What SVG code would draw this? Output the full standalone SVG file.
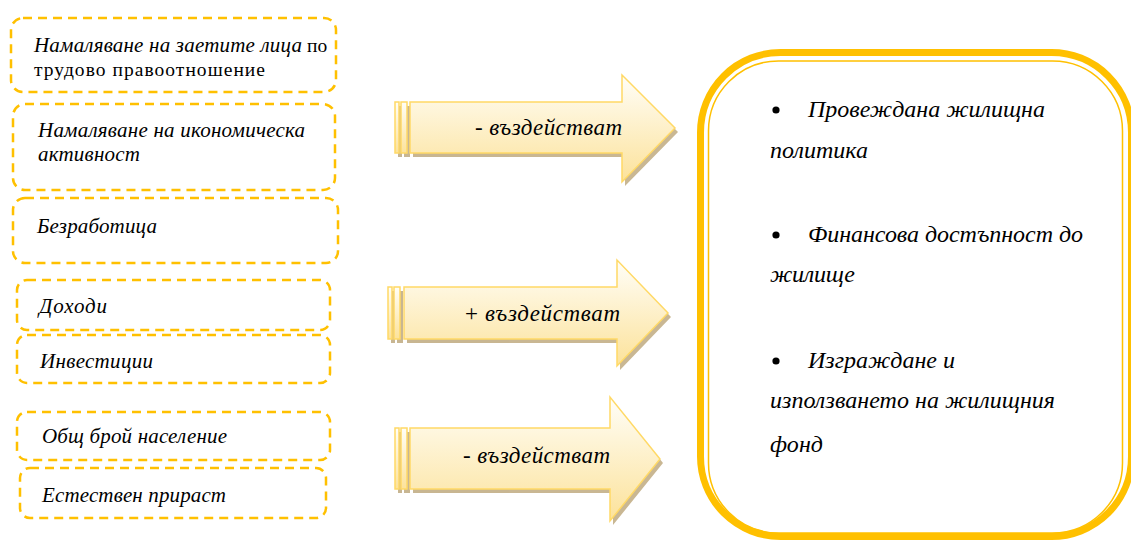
<svg xmlns="http://www.w3.org/2000/svg" width="1131" height="541" viewBox="0 0 1131 541">
<defs>
<linearGradient id="ag" x1="0" y1="0" x2="0" y2="1">
<stop offset="0" stop-color="#FFFEF8"/>
<stop offset="1" stop-color="#FCE29A"/>
</linearGradient>
<style>
.box{fill:#fff;stroke:#FFC000;stroke-width:2.5;stroke-dasharray:9 6}
.t{font-family:"Liberation Serif","Times New Roman",serif;font-size:19.5px;fill:#000}
.i{font-style:italic;font-size:21px}
.ar{fill:url(#ag);stroke:#FFD966;stroke-width:1.5;stroke-linejoin:miter}
.sh{fill:#BFAA80;opacity:0.85}
.big{font-family:"Liberation Serif","Times New Roman",serif;font-size:24px;font-style:italic;fill:#000}
.at{font-family:"Liberation Serif","Times New Roman",serif;font-size:23px;fill:#000}
</style>
</defs>
<rect width="1131" height="541" fill="#fff"/>

<g id="n1"><rect class="box" x="11" y="18" width="325" height="74" rx="12"/>
<text class="t i" x="34" y="52" textLength="268">Намаляване на заетите лица</text>
<text class="t" x="307" y="52">по</text>
<text class="t" x="34" y="76" textLength="231">трудово правоотношение</text></g>
<g id="n2"><rect class="box" x="13" y="104" width="322" height="86" rx="12"/>
<text class="t i" x="38" y="137" textLength="267">Намаляване на икономическа</text>
<text class="t i" x="38" y="161" textLength="102">активност</text></g>
<g id="n3"><rect class="box" x="13" y="198" width="325" height="65" rx="12"/>
<text class="t i" x="37" y="233" textLength="120">Безработица</text></g>
<g id="n4"><rect class="box" x="17" y="280" width="313" height="50" rx="10"/>
<text class="t i" x="39" y="313" textLength="68">Доходи</text></g>
<g id="n5"><rect class="box" x="17" y="335" width="313" height="48" rx="10"/>
<text class="t i" x="40" y="368" textLength="113">Инвестиции</text></g>
<g id="n6"><rect class="box" x="17" y="412" width="313" height="48" rx="10"/>
<text class="t i" x="42" y="443" textLength="185">Общ брой население</text></g>
<g id="n7"><rect class="box" x="20" y="468" width="306" height="50" rx="10"/>
<text class="t i" x="42" y="502" textLength="184">Естествен прираст</text></g>

<g id="connectors">
<g id="a1">
<g transform="translate(3,4)" class="sh"><rect x="395" y="102" width="4" height="51"/><rect x="401" y="102" width="6" height="51"/><polygon points="410,102 622,102 622,75 675,128 622,182 622,153 410,153"/></g>
<rect class="ar" x="395" y="102" width="4" height="51"/><rect class="ar" x="401" y="102" width="6" height="51"/>
<polygon class="ar" points="410,102 622,102 622,75 675,128 622,182 622,153 410,153"/>
<text class="at" x="475" y="135" textLength="147">- <tspan font-style="italic">въздействат</tspan></text>
</g>
<g id="a2">
<g transform="translate(3,4)" class="sh"><rect x="388" y="287" width="4" height="52"/><rect x="394" y="287" width="6" height="52"/><polygon points="404,287 617,287 617,260 668,313 617,366 617,339 404,339"/></g>
<rect class="ar" x="388" y="287" width="4" height="52"/><rect class="ar" x="394" y="287" width="6" height="52"/>
<polygon class="ar" points="404,287 617,287 617,260 668,313 617,366 617,339 404,339"/>
<text class="at" x="465" y="321" textLength="155">+ <tspan font-style="italic">въздействат</tspan></text>
</g>
<g id="a3">
<g transform="translate(3,4)" class="sh"><rect x="395" y="428" width="4" height="61"/><rect x="401" y="428" width="6" height="61"/><polygon points="410,428 610,428 610,397 660,459 610,521 610,489 410,489"/></g>
<rect class="ar" x="395" y="428" width="4" height="61"/><rect class="ar" x="401" y="428" width="6" height="61"/>
<polygon class="ar" points="410,428 610,428 610,397 660,459 610,521 610,489 410,489"/>
<text class="at" x="463" y="463" textLength="147">- <tspan font-style="italic">въздействат</tspan></text>
</g>
</g>

<g id="target">
<rect x="700.5" y="52.5" width="431" height="484" rx="80" fill="#fff" stroke="#FFC000" stroke-width="7"/>
<rect x="708.5" y="61" width="414" height="472" rx="70" fill="none" stroke="#FFC000" stroke-width="1.5"/>
<circle cx="776" cy="110" r="3.6" fill="#000"/>
<text class="big" x="808" y="117" textLength="237">Провеждана жилищна</text>
<text class="big" x="770" y="158" textLength="98">политика</text>
<circle cx="776" cy="235" r="3.6" fill="#000"/>
<text class="big" x="808" y="242" textLength="275">Финансова достъпност до</text>
<text class="big" x="770" y="282" textLength="85">жилище</text>
<circle cx="776" cy="361" r="3.6" fill="#000"/>
<text class="big" x="808" y="368" textLength="147">Изграждане и</text>
<text class="big" x="770" y="408" textLength="285">използването на жилищния</text>
<text class="big" x="770" y="452" textLength="53">фонд</text>
</g>
</svg>
